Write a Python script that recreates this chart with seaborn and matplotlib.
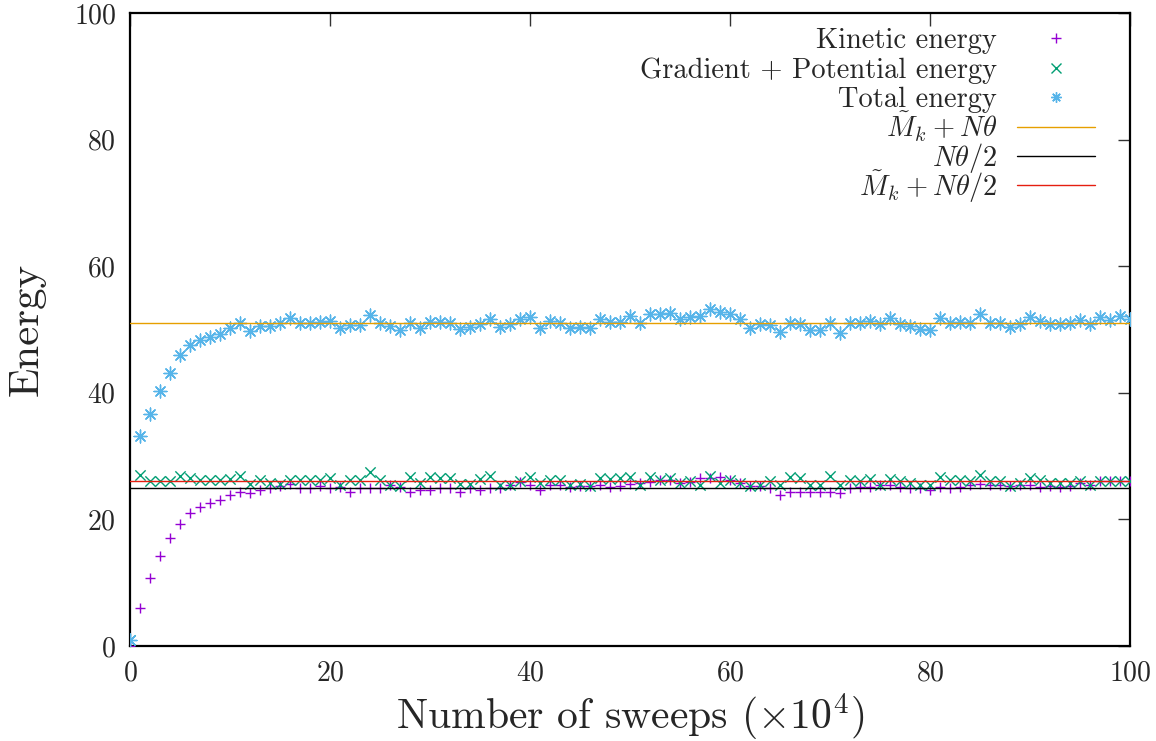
import matplotlib
matplotlib.use("Agg")
import matplotlib.pyplot as plt
import seaborn as sns
import pandas as pd

# Monte Carlo sweeps (in units of 10^4)
sweeps = list(range(0, 101))

kinetic = [
    0.0, 6.0, 10.7, 14.2, 17.0, 19.2, 21.0, 22.0, 22.6, 23.1,
    23.9, 24.3, 24.1, 24.6, 24.9, 25.3, 25.6, 24.9, 24.9, 25.3,
    24.9, 25.1, 24.4, 24.9, 24.9, 24.9, 25.4, 25.1, 24.4, 24.6,
    24.6, 24.9, 24.9, 24.4, 24.9, 24.6, 24.9, 25.0, 25.5, 25.9,
    25.4, 24.6, 25.4, 25.4, 25.1, 25.3, 25.3, 25.5, 25.1, 25.2,
    25.6, 25.8, 25.9, 26.3, 26.2, 25.8, 25.9, 26.5, 26.5, 26.7,
    26.2, 25.8, 25.3, 25.3, 24.9, 23.9, 24.4, 24.3, 24.4, 24.4,
    24.3, 24.1, 24.9, 25.1, 25.1, 25.5, 25.5, 25.1, 25.0, 24.9,
    24.6, 25.1, 25.0, 25.1, 25.4, 25.6, 25.4, 25.4, 25.2, 25.5,
    25.5, 25.1, 25.3, 25.1, 25.2, 25.7, 25.4, 26.0, 26.0, 26.1,
    26.0,
]

gradient_potential = [
    1.0, 27.0, 26.1, 26.1, 26.1, 26.9, 26.5, 26.2, 26.2, 26.2,
    26.4, 26.8, 25.6, 26.2, 25.8, 25.6, 26.3, 26.2, 26.2, 26.2,
    26.5, 25.4, 26.3, 26.2, 27.5, 26.3, 25.5, 25.3, 26.7, 25.8,
    26.7, 26.5, 26.5, 25.6, 25.6, 26.4, 26.9, 25.5, 25.5, 26.0,
    26.7, 25.8, 26.3, 26.3, 25.4, 25.6, 25.3, 26.5, 26.4, 26.5,
    26.7, 25.4, 26.7, 26.3, 26.5, 25.8, 26.0, 25.5, 26.9, 25.8,
    26.2, 25.8, 25.3, 25.5, 26.0, 25.5, 26.7, 26.5, 25.5, 25.5,
    26.9, 25.4, 26.3, 26.0, 26.4, 25.5, 26.4, 26.0, 25.8, 25.4,
    25.5, 26.7, 26.3, 26.3, 26.0, 27.0, 26.0, 26.0, 25.3, 25.7,
    26.6, 26.2, 25.7, 25.7, 25.8, 26.0, 25.4, 26.0, 26.0, 26.1,
    26.0,
]

total = [
    1.0, 33.1, 36.6, 40.3, 43.1, 46.0, 47.5, 48.3, 48.8, 49.3,
    50.2, 51.0, 49.7, 50.6, 50.6, 51.1, 51.8, 51.0, 51.0, 51.2,
    51.4, 50.2, 50.7, 50.7, 52.3, 51.0, 50.6, 49.9, 51.1, 50.3,
    51.2, 51.2, 51.1, 50.1, 50.4, 50.9, 51.6, 50.4, 50.9, 51.7,
    51.9, 50.3, 51.4, 51.1, 50.3, 50.4, 50.3, 51.7, 51.2, 51.2,
    52.1, 51.1, 52.4, 52.4, 52.6, 51.6, 52.0, 52.1, 53.2, 52.8,
    52.4, 51.7, 50.2, 50.8, 50.7, 49.6, 51.1, 50.8, 49.9, 49.9,
    51.1, 49.5, 51.1, 51.0, 51.4, 50.8, 51.8, 50.8, 50.6, 50.1,
    49.9, 51.8, 51.1, 51.2, 51.1, 52.4, 51.1, 51.1, 50.4, 50.9,
    52.0, 51.3, 50.8, 50.8, 51.0, 51.5, 50.8, 51.9, 51.5, 52.2,
    51.7,
]

# Reference levels
level_labels = [r"$\tilde{M}_k + N\theta$", r"$N\theta/2$", r"$\tilde{M}_k + N\theta/2$"]
level_values = [51.0, 25.0, 26.0]
level_colors = ["#E69F00", "#000000", "#E51E10"]

series_labels = ["Kinetic energy", "Gradient + Potential energy", "Total energy"]
series_colors = ["#9400D3", "#009E73", "#56B4E9"]
series_markers = ["+", "x", (8, 2, 0)]
series_sizes = [60, 55, 85]

x_ticks = [0, 20, 40, 60, 80, 100]
y_ticks = [0, 20, 40, 60, 80, 100]

sns.set_style("white")
plt.rcParams["font.family"] = ["cmr10", "DejaVu Sans"]
plt.rcParams["mathtext.fontset"] = "cm"
plt.rcParams["axes.formatter.use_mathtext"] = True
plt.rcParams["axes.unicode_minus"] = False

fig = plt.figure(figsize=(11.56, 7.41), dpi=100)
ax = fig.add_axes([130 / 1156, 95 / 741, 1000 / 1156, 633 / 741])

df = pd.DataFrame({
    "sweeps": sweeps,
    series_labels[0]: kinetic,
    series_labels[1]: gradient_potential,
    series_labels[2]: total,
})

for lab, col, mk, sz in zip(series_labels, series_colors, series_markers, series_sizes):
    sns.scatterplot(data=df, x="sweeps", y=lab, ax=ax, color=col, marker=mk,
                    s=sz, linewidth=1.0, zorder=3, legend=False)

for val, col in zip(level_values, level_colors):
    sns.lineplot(x=[x_ticks[0], x_ticks[-1]], y=[val, val], ax=ax, color=col,
                 linewidth=1.0, zorder=4, legend=False)

ax.set_xlim(x_ticks[0], x_ticks[-1])
ax.set_ylim(y_ticks[0], y_ticks[-1])
ax.set_xticks(x_ticks)
ax.set_yticks(y_ticks)
ax.tick_params(axis="both", which="major", direction="in", length=9, width=1.0,
               top=True, right=True, labelsize=20, pad=10, color="#333333")

for sp in ax.spines.values():
    sp.set_linewidth(1.6)
    sp.set_color("black")

ax.set_xlabel(r"Number of sweeps $(\times 10^4)$", fontsize=30, labelpad=4)
ax.set_ylabel("Energy", fontsize=31, labelpad=20)

# Key: right-aligned labels with the sample to their right, evenly spaced rows
key_text_x = 0.867
key_sample = (0.887, 0.965)
key_top = 0.96
key_step = 0.0465
key_fs = 20.5
row = 0
for lab, col, mk, sz in zip(series_labels, series_colors, series_markers, series_sizes):
    yc = key_top - row * key_step
    ax.text(key_text_x, yc - 0.016, lab, transform=ax.transAxes, ha="right",
            va="baseline", fontsize=key_fs)
    ax.plot([sum(key_sample) / 2], [yc], transform=ax.transAxes, linestyle="none",
            marker=mk, markersize=6.5 if mk != (8, 2, 0) else 7.5,
            markeredgewidth=1.0, color=col, clip_on=False)
    row += 1
for lab, col in zip(level_labels, level_colors):
    yc = key_top - row * key_step
    ax.text(key_text_x, yc - 0.016, lab, transform=ax.transAxes, ha="right",
            va="baseline", fontsize=key_fs)
    ax.plot(list(key_sample), [yc, yc], transform=ax.transAxes, color=col,
            linewidth=1.0, clip_on=False)
    row += 1

fig.savefig("out.png", dpi=100)
